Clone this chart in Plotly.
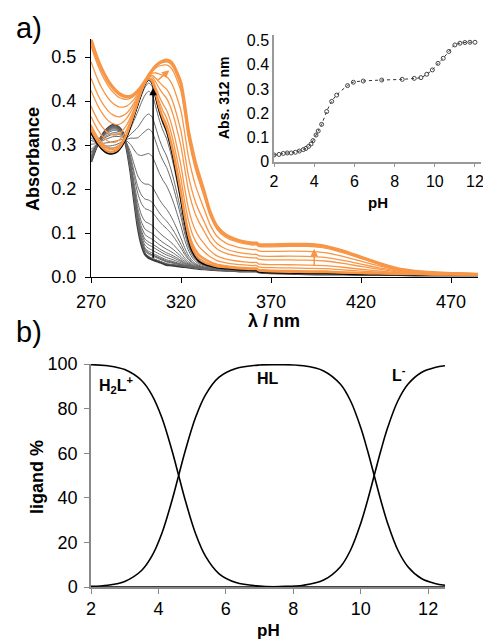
import plotly.graph_objects as go

# ---------------- data ----------------
wavelength = [270, 272, 274, 276, 278, 280, 282, 284, 286, 288, 290, 292, 294, 296, 298,
              300, 302, 304, 306, 308, 310, 312, 314, 316, 318, 320, 322, 324, 326, 328,
              330, 333, 336, 340, 345, 350, 355, 360, 362, 363, 365, 370, 380, 390, 400,
              410, 420, 430, 440, 450, 460, 470, 480, 485]

spec_acid = [0.262, 0.285, 0.305, 0.320, 0.332, 0.340, 0.345, 0.344, 0.338, 0.325, 0.290,
             0.240, 0.175, 0.115, 0.075, 0.052, 0.044, 0.040, 0.037, 0.034, 0.031, 0.028,
             0.027, 0.026, 0.025, 0.024, 0.023, 0.022, 0.021, 0.020, 0.019, 0.018, 0.017,
             0.016, 0.015, 0.014, 0.013, 0.013, 0.013, 0.011, 0.010, 0.009, 0.008, 0.007,
             0.006, 0.006, 0.005, 0.005, 0.005, 0.004, 0.004, 0.004, 0.004, 0.004]

spec_HL = [0.330, 0.315, 0.302, 0.292, 0.285, 0.281, 0.281, 0.284, 0.292, 0.305, 0.322,
           0.345, 0.370, 0.395, 0.420, 0.440, 0.450, 0.442, 0.412, 0.380, 0.355, 0.335,
           0.305, 0.268, 0.225, 0.180, 0.130, 0.090, 0.063, 0.047, 0.037, 0.030, 0.026,
           0.022, 0.020, 0.018, 0.017, 0.016, 0.016, 0.013, 0.012, 0.011, 0.010, 0.009,
           0.009, 0.008, 0.007, 0.007, 0.006, 0.006, 0.005, 0.005, 0.005, 0.005]

spec_L = [0.540, 0.515, 0.492, 0.473, 0.457, 0.443, 0.432, 0.423, 0.416, 0.412, 0.410,
          0.411, 0.415, 0.423, 0.433, 0.445, 0.458, 0.470, 0.480, 0.487, 0.491, 0.493,
          0.490, 0.480, 0.462, 0.440, 0.392, 0.335, 0.295, 0.260, 0.232, 0.192, 0.150,
          0.115, 0.095, 0.086, 0.080, 0.077, 0.077, 0.074, 0.073, 0.073, 0.074, 0.074,
          0.070, 0.059, 0.045, 0.031, 0.019, 0.013, 0.010, 0.008, 0.007, 0.006]

# titration (inset): absorbance at 312 nm vs pH
inset_ph = [2.0, 2.25, 2.46, 2.66, 2.86, 3.06, 3.26, 3.46, 3.59, 3.72, 3.84, 3.94, 4.09,
            4.2, 4.37, 4.62, 4.87, 5.12, 5.66, 5.95, 6.44, 7.36, 8.38, 8.98, 9.31, 9.6,
            9.88, 10.16, 10.42, 10.7, 11.0, 11.25, 11.5, 11.75, 12.0]
inset_abs = [0.028, 0.030, 0.034, 0.036, 0.036, 0.039, 0.044, 0.050, 0.055, 0.063, 0.073,
             0.087, 0.110, 0.127, 0.154, 0.207, 0.249, 0.275, 0.314, 0.328, 0.333, 0.337,
             0.340, 0.344, 0.347, 0.361, 0.379, 0.406, 0.427, 0.455, 0.482, 0.489, 0.492,
             0.493, 0.493]

# speciation (panel b)
spec_ph = [2.0, 2.5, 3.0, 3.5, 3.8, 4.1, 4.4, 4.6, 4.8, 5.1, 5.4, 5.8, 6.3, 7.0, 7.6, 8.3,
           8.9, 9.4, 9.7, 10.0, 10.2, 10.4, 10.6, 10.8, 11.1, 11.4, 11.8, 12.2, 12.5]
pct_H2L = [99.7, 99.2, 97.5, 92.6, 86.3, 76.0, 61.3, 50.0, 38.7, 24.0, 13.7, 5.9, 2.0, 0.4,
           0.1, 0.0, 0.0, 0.0, 0.0, 0.0, 0.0, 0.0, 0.0, 0.0, 0.0, 0.0, 0.0, 0.0, 0.0]
pct_L = [0.0, 0.0, 0.0, 0.0, 0.0, 0.0, 0.0, 0.0, 0.0, 0.0, 0.0, 0.0, 0.0, 0.04, 0.2, 0.8,
         3.1, 9.1, 16.6, 28.5, 38.7, 50.0, 61.3, 71.5, 83.4, 90.9, 96.2, 98.4, 99.2]
pct_HL = [100 - a - b for a, b in zip(pct_H2L, pct_L)]

xticks_top = [270, 320, 370, 420, 470]
yticks_top = [0.0, 0.1, 0.2, 0.3, 0.4, 0.5]

# ---------------- figure ----------------
W, H = 483, 639
def px(x):
    return x / W
def py(y):
    return 1 - y / H

FONT = "Liberation Sans, Arial, sans-serif"
GRAY = "#666666"
ORANGE = "#F79646"

fig = go.Figure()

a_acid = spec_acid[wavelength.index(312)]
a_HL = spec_HL[wavelength.index(312)]
a_L = spec_L[wavelength.index(312)]

gray_curves, orange_curves = [], []
for ph, a in zip(inset_ph[1:-1], inset_abs[1:-1]):
    if a <= a_HL:
        f = min(max((a - a_acid) / (a_HL - a_acid), 0), 1)
        gray_curves.append([(1 - f) * s0 + f * s1 for s0, s1 in zip(spec_acid, spec_HL)])
    else:
        f = min(max((a - a_HL) / (a_L - a_HL), 0), 1)
        orange_curves.append([(1 - f) * s0 + f * s1 for s0, s1 in zip(spec_HL, spec_L)])

line_common = dict(shape="spline", smoothing=0.6)
fig.add_trace(go.Scatter(x=wavelength, y=spec_acid, mode="lines",
                         line=dict(color="#3a3a3a", width=2.5, **line_common),
                         xaxis="x", yaxis="y", showlegend=False))
for c in gray_curves:
    fig.add_trace(go.Scatter(x=wavelength, y=c, mode="lines",
                             line=dict(color=GRAY, width=1, **line_common),
                             xaxis="x", yaxis="y", showlegend=False))
fig.add_trace(go.Scatter(x=wavelength, y=spec_HL, mode="lines",
                         line=dict(color="black", width=2.5, **line_common),
                         xaxis="x", yaxis="y", showlegend=False))
for c in orange_curves:
    fig.add_trace(go.Scatter(x=wavelength, y=c, mode="lines",
                             line=dict(color=ORANGE, width=1.3, **line_common),
                             xaxis="x", yaxis="y", showlegend=False))
fig.add_trace(go.Scatter(x=wavelength, y=spec_L, mode="lines",
                         line=dict(color=ORANGE, width=3.2, **line_common),
                         xaxis="x", yaxis="y", showlegend=False))

# inset
fig.add_trace(go.Scatter(x=inset_ph, y=inset_abs, mode="lines+markers",
                         line=dict(color="#333333", width=1, dash="dot", shape="spline"),
                         marker=dict(symbol="circle-open", size=4, color="#444444",
                                     line=dict(width=1)),
                         xaxis="x2", yaxis="y2", showlegend=False))

# speciation
for ys in (pct_H2L, pct_HL, pct_L):
    fig.add_trace(go.Scatter(x=spec_ph, y=ys, mode="lines",
                             line=dict(color="black", width=1.6, shape="spline"),
                             xaxis="x3", yaxis="y3", showlegend=False))

tickfont = dict(family=FONT, size=18, color="black")
common = dict(showgrid=False, zeroline=False, automargin=False, ticklabeloverflow="allow")
fig.update_layout(
    width=W, height=H, margin=dict(l=0, r=0, t=0, b=0),
    paper_bgcolor="white", plot_bgcolor="rgba(0,0,0,0)",
    xaxis=dict(domain=[px(91), px(478)], range=[270, 485], tickvals=xticks_top,
               showline=True, linecolor="black", linewidth=1.2, ticks="outside",
               ticklen=5, tickcolor="black", tickfont=tickfont, anchor="y",
               ticklabelstandoff=3, **common),
    yaxis=dict(domain=[py(277), py(39.4)], range=[0, 0.54], tickvals=yticks_top,
               tickformat=".1f", showline=True, linecolor="black", linewidth=1.2,
               ticks="outside", ticklen=5, tickcolor="black", tickfont=tickfont,
               anchor="x", ticklabelstandoff=5, **common),
    xaxis2=dict(domain=[px(274), px(481)], range=[2, 12.3], tickvals=[2, 4, 6, 8, 10, 12],
                showline=True, linecolor="#999999", linewidth=1.5, ticks="outside",
                ticklen=4, tickcolor="#999999",
                tickfont=dict(family=FONT, size=16, color="black"), anchor="y2", **common),
    yaxis2=dict(domain=[py(161.7), py(35)], range=[0, 0.523],
                tickvals=[0, 0.1, 0.2, 0.3, 0.4, 0.5],
                ticktext=["0", "0.1", "0.2", "0.3", "0.4", "0.5"],
                showline=True, linecolor="#999999", linewidth=1.5, ticks="",
                tickfont=dict(family=FONT, size=16, color="black"), anchor="x2", **common),
    xaxis3=dict(domain=[px(91), px(445)], range=[2, 12.5], tickvals=[2, 4, 6, 8, 10, 12],
                showline=True, linecolor="#888888", linewidth=1.5, ticks="outside",
                ticklen=5, tickcolor="#888888", tickfont=tickfont, anchor="y3", **common),
    yaxis3=dict(domain=[py(587), py(364)], range=[0, 100], tickvals=[0, 20, 40, 60, 80, 100],
                showline=True, linecolor="#888888", linewidth=1.5, ticks="outside",
                ticklen=5, tickcolor="#888888", tickfont=tickfont, anchor="x3",
                ticklabelstandoff=3, **common),
)

def label(text, x, y, size=18, bold=True, angle=0, xanchor="center"):
    t = f"<b>{text}</b>" if bold else text
    fig.add_annotation(text=t, x=px(x), y=py(y), xref="paper", yref="paper",
                       xanchor=xanchor, yanchor="middle", showarrow=False, textangle=angle,
                       font=dict(family=FONT, size=size, color="black"))

label("a)", 29, 28, size=29, bold=False)
label("b)", 29, 332, size=29, bold=False)
label("Absorbance", 33, 159, angle=-90)
label("λ / nm", 274, 321)
label("Abs. 312 nm", 224, 98, size=14, angle=-90)
label("pH", 378, 202, size=15)
label("ligand %", 37, 477, angle=-90)
label("pH", 268, 630, size=17)
label("H<sub>2</sub>L<sup>+</sup>", 97, 385, size=16, xanchor="left")
label("HL", 268, 378, size=16)
label("L<sup>-</sup>", 399, 374, size=16)

# arrows (data coordinates)
arrows = [
    dict(x=304.5, y=0.43, ax=304.5, ay=0.04, color="black"),
    dict(x=313.5, y=0.47, ax=306.5, ay=0.445, color=ORANGE),
    dict(x=394, y=0.064, ax=394, ay=0.022, color=ORANGE),
]
for a in arrows:
    fig.add_annotation(x=a["x"], y=a["y"], ax=a["ax"], ay=a["ay"], xref="x", yref="y",
                       axref="x", ayref="y", text="", showarrow=True, arrowhead=2,
                       arrowsize=1, arrowwidth=1.5, arrowcolor=a["color"],
                       font=dict(size=10))

fig.write_html("out.html", config={"displayModeBar": False},
               post_script="document.body.style.margin='0';document.body.style.overflow='hidden';")
